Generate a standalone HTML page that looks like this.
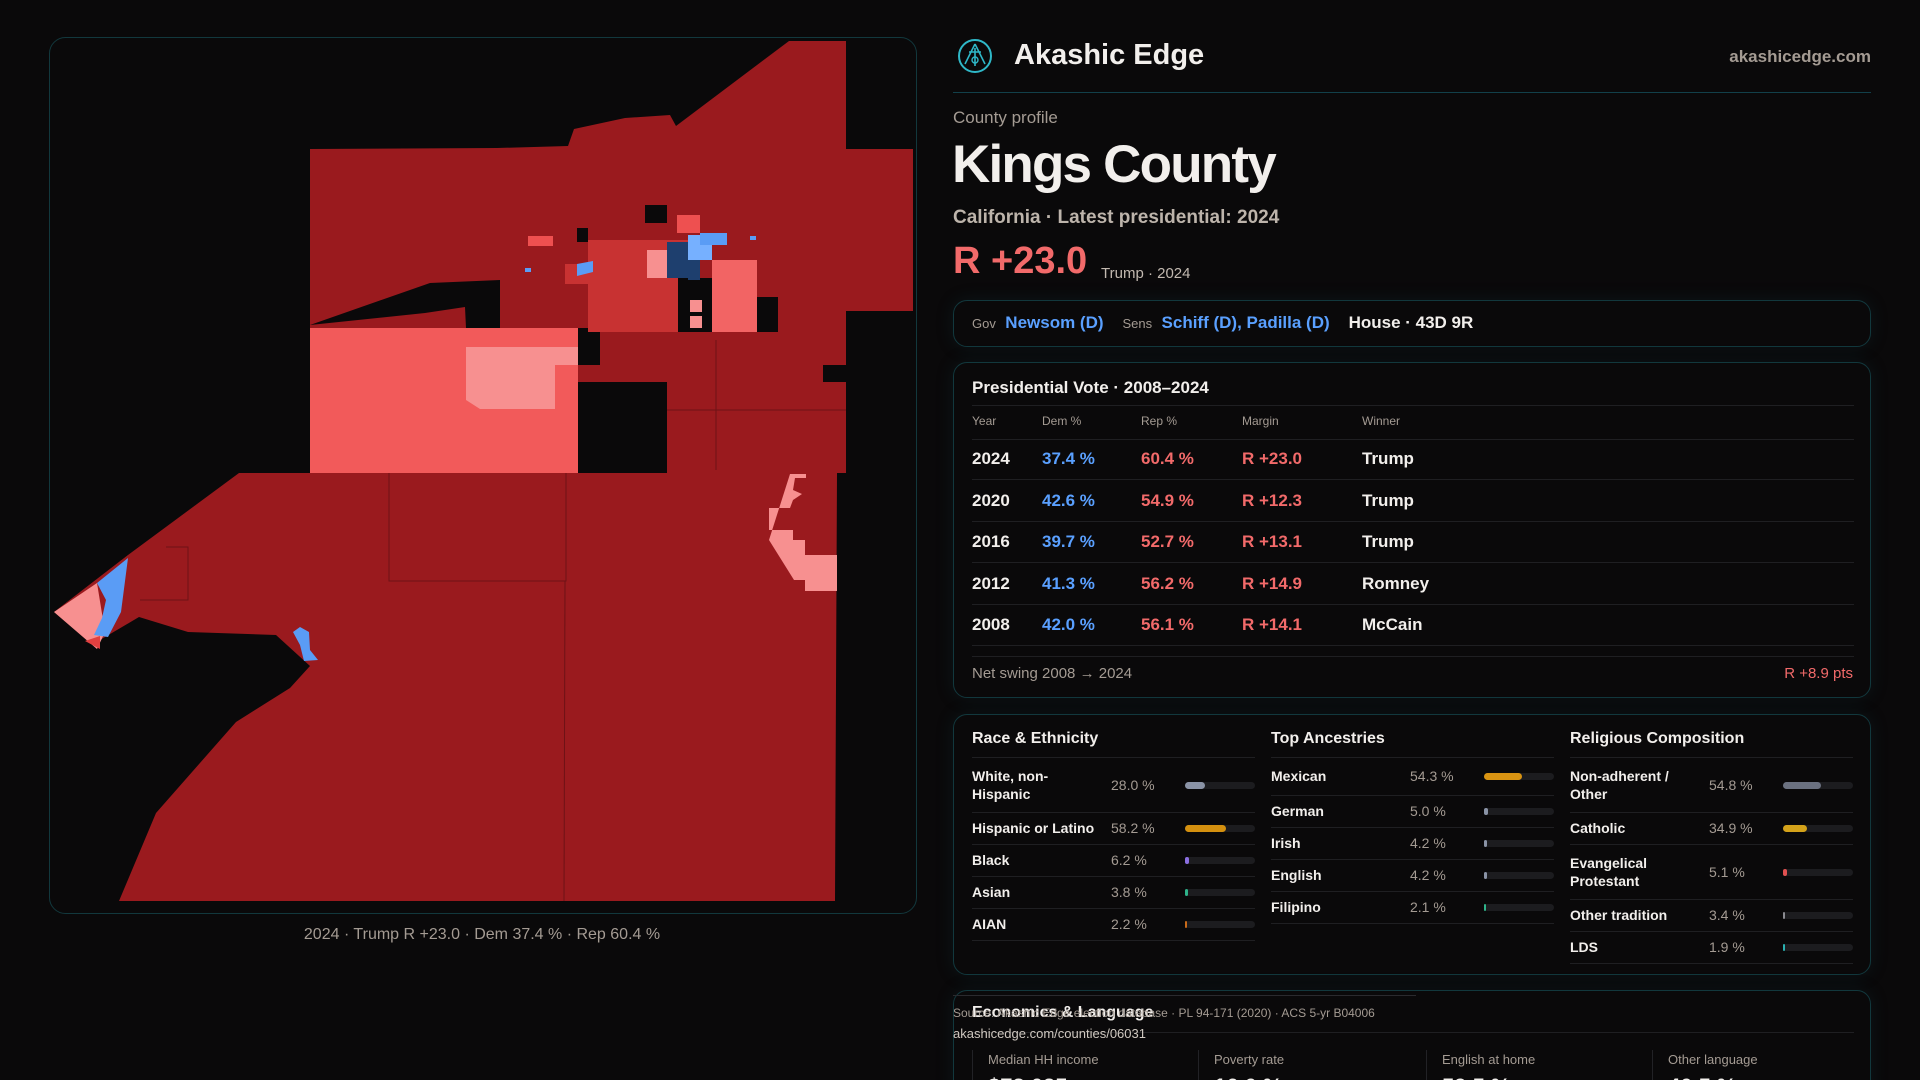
<!DOCTYPE html>
<html><head><meta charset="utf-8">
<style>
*{margin:0;padding:0;box-sizing:border-box}
html,body{width:1920px;height:1080px;overflow:hidden}
body{background:#0a090a;font-family:"Liberation Sans",sans-serif;color:#f2efec;position:relative}
#root{position:absolute;left:0;top:0;width:1920px;height:1080px;overflow:hidden}
.abs{position:absolute;white-space:nowrap}
.box{position:absolute;border:1px solid #12383d;border-radius:14px;background:#0a090a;box-shadow:0 0 18px rgba(20,80,90,0.18)}
.g{color:#a49b93}
.hl{position:absolute;height:1px;background:#1f1f22}
</style></head><body><div id="root">
<svg class="abs" style="left:0;top:0" width="940" height="960" viewBox="0 0 940 960">
<rect x="49.5" y="37.5" width="867" height="876" rx="16" fill="#0a090a" stroke="#12383d"/>
<polygon fill="#9a1a1e" points="789,41 846,41 846,149 913,149 913,311 846,311 846,473 837,473 835,901 119,901 156,813 236,722 290,688 310,666 276,635 188,632 139,617 100,640 97,649 54,612 128,555 239,473 310,473 310,149 497,148 568,146 574,129 625,118 670,115 676,126"/>
<g fill="none" stroke="#6e1216" stroke-width="1">
<polyline points="389,473 389,581 566,581 566,473"/><line x1="565" y1="581" x2="564" y2="901"/><polyline points="166,547 188,547 188,600 140,600"/><line x1="716" y1="340" x2="716" y2="470"/><line x1="660" y1="410" x2="846" y2="410"/>
</g>
<polygon fill="#0a090a" points="310,325 430,283 500,280 500,328 466,328 465,307 425,313"/>
<rect x="310" y="328" width="268" height="145" fill="#f25a5a"/>
<polygon fill="#f79090" points="466,347 578,347 578,365 555,365 555,409 480,409 466,400"/>
<rect x="578" y="382" width="89" height="91" fill="#0a090a"/>
<rect x="578" y="328" width="22" height="37" fill="#0a090a"/>
<rect x="823" y="365" width="23" height="17" fill="#0a090a"/>
<rect x="588" y="240" width="102" height="92" fill="#c83232"/>
<rect x="565" y="264" width="30" height="20" fill="#c83232"/>
<rect x="528" y="236" width="25" height="10" fill="#ee5050"/>
<rect x="712" y="260" width="45" height="72" fill="#f26464"/>
<rect x="757" y="297" width="21" height="35" fill="#0a090a"/>
<rect x="678" y="278" width="34" height="54" fill="#0a090a"/>
<rect x="690" y="300" width="12" height="12" fill="#f79090"/>
<rect x="690" y="316" width="12" height="12" fill="#f79090"/>
<rect x="645" y="205" width="22" height="18" fill="#0a090a"/>
<rect x="577" y="228" width="11" height="14" fill="#0a090a"/>
<rect x="677" y="215" width="23" height="18" fill="#ee5050"/>
<rect x="647" y="250" width="20" height="28" fill="#f79090"/>
<rect x="667" y="242" width="23" height="36" fill="#1e3f6e"/>
<rect x="688" y="235" width="24" height="25" fill="#76b0ff"/>
<rect x="700" y="233" width="27" height="12" fill="#5a9cf5"/>
<rect x="688" y="260" width="12" height="20" fill="#1e3f6e"/>
<polygon fill="#5a9cf5" points="577,264 593,261 593,272 577,276"/>
<rect x="525" y="268" width="6" height="4" fill="#5a9cf5"/>
<rect x="750" y="236" width="6" height="4" fill="#5a9cf5"/>
<polygon fill="#f79090" points="790,474 806,474 806,478 795,478 793,490 802,494 793,500 790,508 769,508 769,530 793,530 793,540 805,540 805,555 837,555 837,591 805,591 805,580 794,580 769,540"/>
<polygon fill="#f79090" points="54,612 97,583 105,632 97,649"/>
<polygon fill="#5a9cf5" points="97,583 128,558 121,612 108,637 94,635 102,618 106,600"/>
<polygon fill="#e04040" points="85,641 100,636 100,649"/>
<polygon fill="#5a9cf5" points="293,632 300,627 309,632 310,650 318,660 304,661 300,645"/>
</svg>
<div class="abs g" style="left:0;width:964px;text-align:center;top:926px;font-size:16px">2024 · Trump R +23.0 · Dem 37.4 % · Rep 60.4 %</div>

<svg class="abs" style="left:957px;top:38px" width="36" height="36" viewBox="0 0 36 36"><circle cx="18" cy="18" r="16" fill="none" stroke="#2fb8c8" stroke-width="2"/><path d="M18 6 L8 26 M18 6 L28 26 M18 10 L18 28 M12 14 L24 14" stroke="#2fb8c8" stroke-width="1.6" fill="none"/><circle cx="18" cy="22" r="3" fill="none" stroke="#2fb8c8" stroke-width="1.4"/></svg>
<div class="abs" style="left:1014px;top:39px;font-size:29px;font-weight:bold">Akashic Edge</div>
<div class="abs g" style="right:49px;top:47px;font-size:17px;font-weight:bold">akashicedge.com</div>
<div class="hl" style="left:953px;width:918px;top:92px;background:#12404a"></div>
<div class="abs g" style="left:953px;top:108px;font-size:17px">County profile</div>
<div class="abs" style="left:952px;top:134px;font-size:53px;font-weight:bold;letter-spacing:-1.8px">Kings County</div>
<div class="abs g" style="left:953px;top:207px;font-size:19px;font-weight:bold;color:#bdb4ab">California · Latest presidential: 2024</div>
<div class="abs" style="left:953px;top:240px;font-size:38px;font-weight:bold;color:#f26a6a">R +23.0</div>
<div class="abs g" style="left:1101px;top:265px;font-size:15px;color:#c2b9b0">Trump · 2024</div>

<div class="box" style="left:953px;top:300px;width:918px;height:47px"></div>
<div class="abs" style="top:313px;left:972px;font-size:17px"><span class="g" style="font-size:13px">Gov</span>&nbsp; <span style="color:#5aa0ff;font-weight:bold">Newsom (D)</span>&nbsp;&nbsp;&nbsp; <span class="g" style="font-size:13px">Sens</span>&nbsp; <span style="color:#5aa0ff;font-weight:bold">Schiff (D), Padilla (D)</span>&nbsp;&nbsp;&nbsp; <span style="font-weight:bold">House · 43D 9R</span></div>

<div class="box" style="left:953px;top:362px;width:918px;height:336px"></div>
<div class="abs" style="left:972px;top:378px;font-size:17px;font-weight:bold">Presidential Vote · 2008–2024</div>
<div class="hl" style="left:972px;width:882px;top:405px"></div>
<div class="hl" style="left:972px;width:882px;top:656px"></div>
<div class="abs g" style="left:972px;top:665px;font-size:15px">Net swing 2008 → 2024</div>
<div class="abs" style="right:67px;top:665px;font-size:15px;color:#f26a6a">R +8.9 pts</div>

<div class="box" style="left:953px;top:714px;width:918px;height:261px"></div>

<div class="box" style="left:953px;top:990px;width:918px;height:110px"></div>
<div class="abs" style="left:972px;top:1004px;font-size:16px;font-weight:bold">Economics &amp; Language</div>
<div class="hl" style="left:953px;width:463px;top:995px;background:#2a2a2e"></div>
<div class="hl" style="left:972px;width:882px;top:1032px"></div>
<div class="abs g" style="left:953px;top:1006px;font-size:12px">Source: Akashic Edge election database · PL 94-171 (2020) · ACS 5-yr B04006</div>
<div class="abs" style="left:953px;top:1026px;font-size:13px;color:#cfc8c0">akashicedge.com/counties/06031</div>
</div>
<script>
const years=["2024","2020","2016","2012","2008"];
const demPct=[37.4,42.6,39.7,41.3,42.0];
const repPct=[60.4,54.9,52.7,56.2,56.1];
const margins=[23.0,12.3,13.1,14.9,14.1];
const winners=["Trump","Trump","Trump","Romney","McCain"];

const raceLabels=["White, non-Hispanic","Hispanic or Latino","Black","Asian","AIAN"];
const raceValues=[28.0,58.2,6.2,3.8,2.2];
const ancLabels=["Mexican","German","Irish","English","Filipino"];
const ancValues=[54.3,5.0,4.2,4.2,2.1];
const relLabels=["Non-adherent / Other","Catholic","Evangelical Protestant","Other tradition","LDS"];
const relValues=[54.8,34.9,5.1,3.4,1.9];

const econLabels=["Median HH income","Poverty rate","English at home","Other language"];
const econValues=["$73,025","16.0 %","59.5 %","40.5 %"];

const root=document.getElementById('root');
function mk(tag,css,txt){const e=document.createElement(tag);e.style.cssText=css;if(txt!==undefined)e.textContent=txt;root.appendChild(e);return e;}

const cols=[972,1042,1141,1242,1362];
["Year","Dem %","Rep %","Margin","Winner"].forEach((h,i)=>{
  const e=mk('div','position:absolute;white-space:nowrap;left:'+cols[i]+'px;top:414px;font-size:12px;color:#a49b93',h);
  
  
});
mk('div','position:absolute;left:972px;width:882px;top:439px;height:1px;background:#1f1f22');
years.forEach((y,i)=>{
  const top=449+i*41.5;
  const vals=[y,demPct[i].toFixed(1)+' %',repPct[i].toFixed(1)+' %','R +'+margins[i].toFixed(1),winners[i]];
  const colors=['#f2efec','#5aa0ff','#f26a6a','#f26a6a','#f2efec'];
  vals.forEach((v,j)=>{
    const e=mk('div','position:absolute;white-space:nowrap;left:'+cols[j]+'px;top:'+top+'px;font-size:17px;font-weight:bold;color:'+colors[j],v);
    
    
  });
  mk('div','position:absolute;left:972px;width:882px;top:'+(top+30)+'px;height:1px;background:#1f1f22');
});

function panel(x,title,labels,values,colors,twoLine,firstH){
  const t=mk('div','position:absolute;white-space:nowrap;left:'+x+'px;top:730px;font-size:16px;font-weight:bold',title);
  
  
  let y=757;
  mk('div','position:absolute;left:'+x+'px;width:283px;top:'+y+'px;height:1px;background:#1f1f22');
  labels.forEach((l,i)=>{
    let h=twoLine[i]?55:32; if(i===0&&firstH)h=firstH;
    const c=y+h/2;
    const le=mk('div','position:absolute;left:'+x+'px;width:'+(twoLine[i]?100:130)+'px;top:'+(c-(twoLine[i]?18:9))+'px;font-size:14px;font-weight:bold;line-height:18px',l);
    
    
    const ve=mk('div','position:absolute;white-space:nowrap;left:'+(x+139)+'px;top:'+(c-8)+'px;font-size:14px;color:#a49b93',values[i].toFixed(1)+' %');
    
    
    const b=mk('div','position:absolute;left:'+(x+213)+'px;top:'+(c-3)+'px;width:70px;height:7px;border-radius:4px;background:#1c1c1f');
    
    
    const f=document.createElement('div');
    f.style.cssText='height:7px;border-radius:4px;min-width:2px;width:'+values[i]+'%;background:'+colors[i];
    b.appendChild(f);
    y+=h;
    mk('div','position:absolute;left:'+x+'px;width:283px;top:'+y+'px;height:1px;background:#1f1f22');
  });
}
panel(972,"Race & Ethnicity",raceLabels,raceValues,["#8a93a6","#d4900f","#8a6ee0","#2fb38a","#c86a1a"],[1,0,0,0,0]);
panel(1271,"Top Ancestries",ancLabels,ancValues,["#d99412","#8a93a6","#8a93a6","#8a93a6","#2fb38a"],[0,0,0,0,0],38);
panel(1570,"Religious Composition",relLabels,relValues,["#6b7180","#d4a21a","#e05050","#8a8a90","#2ab0b0"],[1,0,1,0,0]);

const ex=[972,1198,1426,1652];
econLabels.forEach((l,i)=>{
  mk('div','position:absolute;left:'+ex[i]+'px;top:1050px;width:1px;height:30px;background:#222226');
  const e=mk('div','position:absolute;white-space:nowrap;left:'+(ex[i]+16)+'px;top:1052px;font-size:13px;color:#a49b93',l);
  
  
  const v=mk('div','position:absolute;white-space:nowrap;left:'+(ex[i]+16)+'px;top:1074px;font-size:22px;font-weight:bold',econValues[i]);
  
  
});
</script>
</body></html>
